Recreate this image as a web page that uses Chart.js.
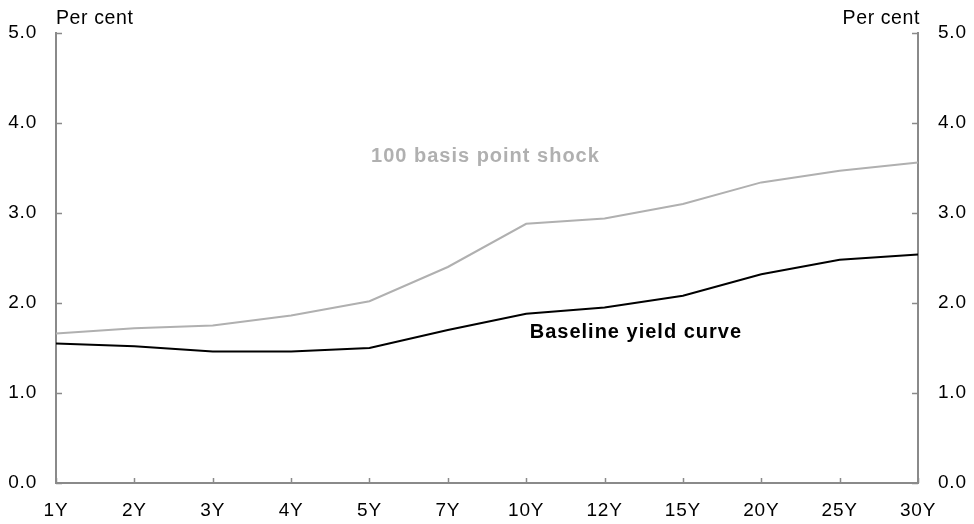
<!DOCTYPE html>
<html>
<head>
<meta charset="utf-8">
<script src="https://cdn.jsdelivr.net/npm/chart.js@4/dist/chart.umd.min.js"></script>
<style>
  html, body { margin: 0; padding: 0; background: #fff; }
  #wrap { width: 974px; height: 524px; }
</style>
</head>
<body>
<div id="wrap"><canvas id="yieldChart" width="974" height="524"></canvas></div>
<script>
// Chart data
const tenors = ['1Y', '2Y', '3Y', '4Y', '5Y', '7Y', '10Y', '12Y', '15Y', '20Y', '25Y', '30Y'];
const baseline = [1.55, 1.52, 1.46, 1.46, 1.50, 1.70, 1.88, 1.95, 2.08, 2.32, 2.48, 2.54];
const shock = [1.66, 1.72, 1.75, 1.86, 2.02, 2.40, 2.88, 2.94, 3.10, 3.34, 3.47, 3.56];
const yTicks = [0, 1, 2, 3, 4, 5];

const FONT = 'Liberation Sans, Arial, sans-serif';
const AXIS_COLOR = '#8a8a8a';

// slightly wider text, like the original
const spacingPlugin = {
    id: 'spacing',
    beforeUpdate(chart) { chart.ctx.letterSpacing = '0.8px'; },
    beforeDraw(chart) { chart.ctx.letterSpacing = '0.8px'; }
};

// draws inward ticks, unit titles and the series labels
const decorPlugin = {
    id: 'decor',
    afterDraw(chart) {
        const ctx = chart.ctx;
        const area = chart.chartArea;
        const x = chart.scales.x;
        const y = chart.scales.y;
        ctx.save();
        ctx.strokeStyle = AXIS_COLOR;
        ctx.lineWidth = 1.5;
        // y ticks, pointing into the plot on both sides
        yTicks.forEach(v => {
            const py = Math.round(y.getPixelForValue(v)) + 0.5;
            ctx.beginPath();
            ctx.moveTo(area.left, py);
            ctx.lineTo(area.left + 6, py);
            ctx.moveTo(area.right, py);
            ctx.lineTo(area.right - 6, py);
            ctx.stroke();
        });
        // x ticks, pointing up
        tenors.forEach((t, i) => {
            const px = Math.round(x.getPixelForValue(i)) + 0.5;
            ctx.beginPath();
            ctx.moveTo(px, area.bottom);
            ctx.lineTo(px, area.bottom - 5);
            ctx.stroke();
        });

        ctx.fillStyle = '#000';
        ctx.font = '19.5px ' + FONT;
        ctx.letterSpacing = '0.6px';
        ctx.textBaseline = 'alphabetic';
        ctx.textAlign = 'left';
        ctx.fillText('Per cent', area.left, 24);
        ctx.textAlign = 'right';
        ctx.fillText('Per cent', area.right + 2, 24);

        ctx.font = 'bold 20px ' + FONT;
        ctx.letterSpacing = '1px';
        ctx.textAlign = 'center';
        ctx.textBaseline = 'middle';
        ctx.fillStyle = '#b0b0b0';
        ctx.fillText('100 basis point shock', x.getPixelForValue(5.48), y.getPixelForValue(3.63));
        ctx.fillStyle = '#000';
        ctx.fillText('Baseline yield curve', x.getPixelForValue(7.4), y.getPixelForValue(1.67));
        ctx.restore();
    }
};

const tickFont = { family: FONT, size: 19 };

new Chart(document.getElementById('yieldChart').getContext('2d'), {
    type: 'line',
    data: {
        labels: tenors,
        datasets: [
            {
                label: '100 basis point shock',
                data: shock,
                borderColor: '#b0b0b0',
                borderWidth: 2,
                pointRadius: 0,
                tension: 0
            },
            {
                label: 'Baseline yield curve',
                data: baseline,
                borderColor: '#000',
                borderWidth: 2,
                pointRadius: 0,
                tension: 0
            }
        ]
    },
    options: {
        responsive: false,
        animation: false,
        layout: { padding: { top: 33, left: 0, right: 0, bottom: 0 } },
        plugins: {
            legend: { display: false },
            tooltip: { enabled: false }
        },
        scales: {
            x: {
                offset: false,
                grid: { display: false, drawTicks: false },
                border: { display: true, color: AXIS_COLOR, width: 2 },
                ticks: { color: '#000', font: tickFont, padding: 16, maxRotation: 0, autoSkip: false },
                afterFit(scale) { scale.height = 41; }
            },
            y: {
                position: 'left',
                min: 0,
                max: 5,
                grid: { display: false, drawTicks: false },
                border: { display: true, color: AXIS_COLOR, width: 2 },
                ticks: { stepSize: 1, color: '#000', font: tickFont, padding: 19, callback: v => v.toFixed(1) },
                afterFit(scale) { scale.width = 56; }
            },
            y2: {
                position: 'right',
                min: 0,
                max: 5,
                grid: { display: false, drawTicks: false },
                border: { display: true, color: AXIS_COLOR, width: 2 },
                ticks: { stepSize: 1, color: '#000', font: tickFont, padding: 20, callback: v => v.toFixed(1) },
                afterFit(scale) { scale.width = 56; }
            }
        }
    },
    plugins: [spacingPlugin, decorPlugin]
});
</script>
</body>
</html>
